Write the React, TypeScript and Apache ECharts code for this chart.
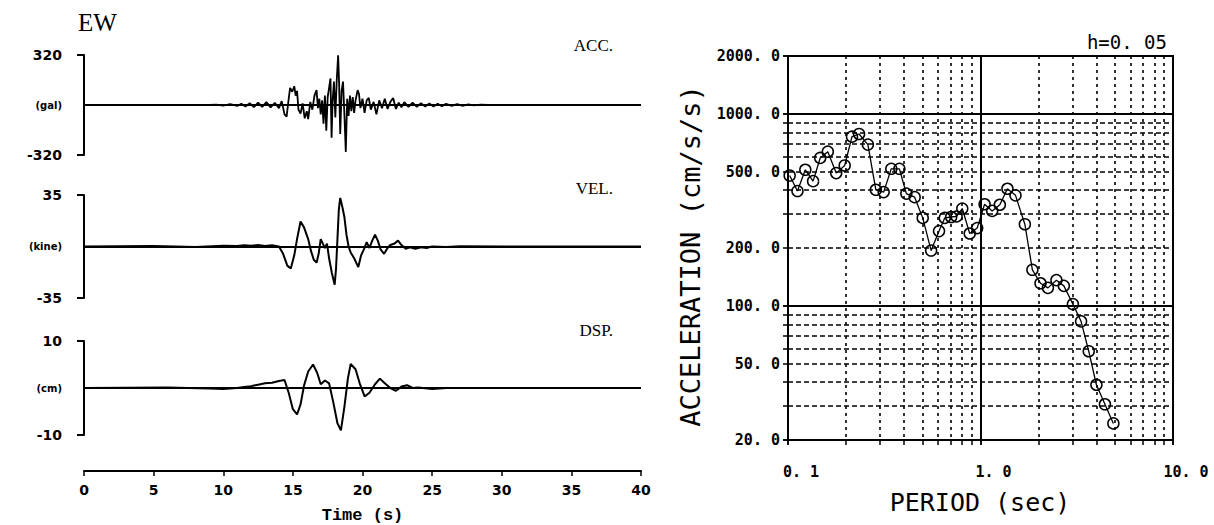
import React, { useEffect, useRef } from "react";
import * as echarts from "echarts";

// Ground-motion time histories (EW component): [time s, value]
const accTrace: [number, number][] = [
  [0, 0], [9, 0], [9.5, 3], [10, -4], [10.5, 5], [11, -6], [11.3, 8], [11.6, -10],
  [11.9, 12], [12.2, -14], [12.5, 15], [12.8, -12], [13.1, 18], [13.4, -15], [13.7, 14],
  [14, -20], [14.2, 25], [14.4, -60], [14.55, -75], [14.7, 40], [14.8, 110], [14.95, 85],
  [15.1, 120], [15.2, 60], [15.3, 90], [15.4, -30], [15.55, -55], [15.7, 10], [15.85, -85],
  [16.0, -40], [16.1, -90], [16.25, 20], [16.4, -30], [16.55, 60], [16.7, 95], [16.8, -20],
  [16.9, 40], [17.0, -60], [17.1, 30], [17.2, -120], [17.3, 60], [17.4, -165], [17.5, 50],
  [17.6, 110], [17.7, 170], [17.78, -210], [17.85, 20], [17.95, 150], [18.05, -80],
  [18.15, 160], [18.25, 318], [18.32, 140], [18.4, -185], [18.5, 90], [18.6, 150],
  [18.7, -60], [18.8, -300], [18.9, 40], [19.0, -70], [19.1, 60], [19.2, -40], [19.3, 50],
  [19.4, -50], [19.5, 30], [19.65, 95], [19.75, 70], [19.85, -20], [20.0, 40], [20.15, -50],
  [20.3, 30], [20.45, 45], [20.6, -30], [20.8, 20], [21.0, -60], [21.2, 30], [21.4, -20],
  [21.6, 40], [21.8, -25], [22.0, 20], [22.2, 45], [22.4, -25], [22.6, 15], [22.8, -15],
  [23.0, 18], [23.3, -12], [23.6, 15], [23.9, -12], [24.2, 12], [24.5, -10], [24.8, 10],
  [25.1, -9], [25.4, 8], [25.7, -8], [26.0, 8], [26.4, -6], [26.8, 6], [27.2, -5],
  [27.6, 4], [28, -3], [28.5, 2], [29, 0], [40, 0],
];

const velTrace: [number, number][] = [
  [0, 0], [5, 0.3], [8, -0.3], [10, 0.5], [11, 0.3], [11.5, 0.8], [12, 0.5], [12.5, 1],
  [13, 0.4], [13.5, 0.8], [14, 0], [14.3, -5], [14.6, -13], [14.85, -15], [15.1, -6],
  [15.3, 5], [15.55, 17], [15.8, 13], [16.1, 5], [16.3, -3], [16.5, -9], [16.7, -11],
  [16.85, -5], [17.0, 5], [17.15, 2], [17.3, -1], [17.45, 2], [17.6, -8], [17.8, -18],
  [18.0, -26], [18.1, -15], [18.2, 5], [18.3, 25], [18.4, 33], [18.55, 27], [18.7, 20],
  [18.85, 8], [19.0, 0], [19.15, -4], [19.4, -8], [19.7, -14], [19.9, -6], [20.1, -2],
  [20.3, 3], [20.5, -1], [20.7, 4], [20.9, 8], [21.1, 4], [21.3, -2], [21.55, -5],
  [21.8, -1], [22.0, 1], [22.3, 2], [22.55, 4], [22.8, 1], [23.1, -1.5], [23.4, -0.5],
  [23.8, -1.5], [24.2, -0.5], [24.6, -1], [25, 0], [26, -0.4], [27, 0.2], [30, 0], [40, 0],
];

const dspTrace: [number, number][] = [
  [0, 0], [6, 0.1], [9, -0.1], [10, -0.2], [11, 0], [11.5, 0.2], [12, 0.4], [12.5, 0.7],
  [13, 1.0], [13.5, 1.1], [14, 1.5], [14.4, 1.7], [14.7, -1], [15.0, -4.5], [15.3, -5.6],
  [15.55, -3.5], [15.8, 0.5], [16.1, 3.5], [16.45, 5.0], [16.75, 3.2], [17.0, 0.8],
  [17.3, 1.6], [17.6, 1.0], [17.9, -3], [18.2, -7.5], [18.45, -9], [18.7, -4], [18.95, 2],
  [19.15, 5.1], [19.5, 4], [19.8, 1], [20.15, -1.8], [20.5, -1], [20.9, 0.8], [21.25, 2.0],
  [21.6, 1.0], [22.0, 0], [22.4, -0.6], [22.8, 0.3], [23.2, 0.6], [23.6, 0], [24, 0.1],
  [25, -0.2], [26, 0], [40, 0],
];

// Acceleration response spectrum, damping h = 0.05
const periods = [
  0.102, 0.112, 0.123, 0.135, 0.147, 0.161, 0.178, 0.197, 0.215, 0.234, 0.26, 0.286,
  0.314, 0.344, 0.379, 0.412, 0.455, 0.501, 0.554, 0.609, 0.652, 0.704, 0.751, 0.804,
  0.879, 0.961, 1.05, 1.15, 1.26, 1.38, 1.52, 1.7, 1.86, 2.05, 2.24, 2.48, 2.71, 3.02,
  3.33, 3.65, 4.0, 4.43, 4.9,
];
const spectralAcc = [
  477, 396, 511, 446, 589, 635, 491, 538, 760, 785, 691, 402, 391, 517, 517, 384, 368,
  287, 194, 245, 287, 290, 292, 321, 238, 254, 338, 312, 336, 407, 376, 266, 154, 131,
  124, 136, 127, 102, 83, 58, 38.8, 30.7, 24.4,
];

// Axis ticks and grid lines of the spectrum panel
const periodLabels = [0.1, 1, 10];
const periodTicks = [0.1, 0.2, 0.3, 0.4, 0.5, 0.6, 0.7, 0.8, 0.9, 1, 2, 3, 4, 5, 6, 7, 8, 9, 10];
const accelLabels = [20, 50, 100, 200, 500, 1000, 2000];
const accelTicks = [20, 30, 40, 50, 60, 70, 80, 90, 100, 200, 300, 400, 500, 600, 700, 800, 900, 1000, 2000];

// Time history panels: limits and unit captions
const traceLimits = [320, 35, 10];
const traceUnits = ["(gal)", "(kine)", "(cm)"];
const traceNames = ["ACC.", "VEL.", "DSP."];
const timeMax = 40;
const timeStep = 5;

const INK = "#000";
const SANS = "DejaVu Sans";
const MONO = "DejaVu Sans Mono";

const traceTops = [55, 195, 341];
const traceHeights = [100, 103, 98];
const nameY = [45, 188, 330];

function fmtDecimal(v: number) {
  return Number(v).toFixed(1).replace(".", ". ");
}

function buildOption() {
  const grids: any[] = traceTops.map((top, i) => ({
    left: 84,
    width: 557,
    top,
    height: traceHeights[i],
  }));
  grids.push({
    left: 788,
    width: 385,
    top: 56,
    height: 384,
    show: true,
    borderColor: INK,
    borderWidth: 2,
    backgroundColor: "transparent",
  });

  const xAxes: any[] = traceTops.map((_, i) => {
    const isBottom = i === traceTops.length - 1;
    return {
      type: "value",
      gridIndex: i,
      min: 0,
      max: timeMax,
      interval: timeStep,
      show: isBottom,
      offset: isBottom ? 36 : 0,
      axisLine: { show: isBottom, onZero: false, lineStyle: { color: INK, width: 2 } },
      axisTick: { show: isBottom, length: 5, lineStyle: { color: INK, width: 1.5 } },
      axisLabel: {
        show: isBottom,
        color: INK,
        fontFamily: SANS,
        fontWeight: "bold",
        fontSize: 14,
        margin: 12,
      },
      splitLine: { show: false },
      name: isBottom ? "Time (s)" : "",
      nameLocation: "middle",
      nameGap: 36,
      nameTextStyle: {
        color: INK,
        fontFamily: "Liberation Mono",
        fontWeight: "bold",
        fontSize: 17,
      },
    };
  });
  // spectrum: decade axis (solid grid, labels)
  xAxes.push({
    type: "log",
    logBase: 10,
    gridIndex: 3,
    position: "bottom",
    min: 0.1,
    max: 10,
    axisLine: { show: true, onZero: false, lineStyle: { color: INK, width: 2 } },
    axisTick: { show: true, length: 5, lineStyle: { color: INK, width: 1.5 } },
    axisLabel: {
      customValues: periodLabels,
      formatter: (v: number) => fmtDecimal(v),
      color: INK,
      fontFamily: MONO,
      fontWeight: "bold",
      fontSize: 15,
      margin: 24,
      align: "center",
      padding: [0, 0, 0, 26],
    },
    splitLine: { show: true, lineStyle: { color: INK, width: 2 } },
    z: 3,
  });
  // spectrum: intermediate periods (dashed grid, ticks only)
  xAxes.push({
    type: "log",
    logBase: 10,
    gridIndex: 3,
    position: "bottom",
    offset: 0,
    min: 0.1,
    max: 10,
    axisLine: { show: false, onZero: false },
    axisTick: {
      show: true,
      customValues: periodTicks,
      length: 5,
      lineStyle: { color: INK, width: 1.5 },
    },
    axisLabel: { show: false },
    splitLine: { show: true, lineStyle: { color: INK, width: 1.6, type: [3, 4] } },
    z: 1,
  });

  const yAxes: any[] = traceLimits.map((lim, i) => ({
    type: "value",
    gridIndex: i,
    min: -lim,
    max: lim,
    interval: lim,
    axisLine: { show: true, onZero: false, lineStyle: { color: INK, width: 2 } },
    axisTick: {
      show: true,
      customValues: [-lim, lim],
      length: 7,
      lineStyle: { color: INK, width: 2 },
    },
    axisLabel: {
      customValues: [-lim, 0, lim],
      margin: 22,
      color: INK,
      fontFamily: SANS,
      fontWeight: "bold",
      fontSize: 14,
      formatter: (v: number) => (v === 0 ? `{u|${traceUnits[i]}}` : String(v)),
      rich: {
        u: { fontSize: 10, fontWeight: "bold", fontFamily: SANS, color: INK },
      },
    },
    splitLine: { show: false },
  }));
  yAxes.push({
    type: "log",
    logBase: 10,
    gridIndex: 3,
    position: "left",
    min: 20,
    max: 2000,
    axisLine: { show: true, onZero: false, lineStyle: { color: INK, width: 2 } },
    axisTick: { show: true, length: 5, lineStyle: { color: INK, width: 1.5 } },
    axisLabel: {
      customValues: accelLabels,
      formatter: (v: number) => fmtDecimal(v),
      color: INK,
      fontFamily: MONO,
      fontWeight: "bold",
      fontSize: 15,
      margin: 8,
    },
    splitLine: { show: true, lineStyle: { color: INK, width: 2 } },
    z: 3,
  });
  yAxes.push({
    type: "log",
    logBase: 10,
    gridIndex: 3,
    position: "left",
    offset: 0,
    min: 20,
    max: 2000,
    axisLine: { show: false, onZero: false },
    axisTick: {
      show: true,
      customValues: accelTicks,
      length: 5,
      lineStyle: { color: INK, width: 1.5 },
    },
    axisLabel: { show: false },
    splitLine: { show: true, lineStyle: { color: INK, width: 1.6, type: [5, 3] } },
    z: 1,
  });

  const zeroLine = {
    silent: true,
    symbol: ["none", "none"],
    label: { show: false },
    lineStyle: { color: INK, width: 2, type: "solid" },
    data: [{ yAxis: 0 }],
  };

  const traces = [accTrace, velTrace, dspTrace];
  const series: any[] = traces.map((d, i) => ({
    type: "line",
    name: traceNames[i],
    xAxisIndex: i,
    yAxisIndex: i,
    data: d,
    symbol: "none",
    showSymbol: false,
    lineStyle: { color: INK, width: i === 0 ? 1.8 : 2 },
    markLine: zeroLine,
  }));

  series.push({
    type: "line",
    name: "Sa",
    xAxisIndex: 3,
    yAxisIndex: 3,
    data: periods.map((p, i) => [p, spectralAcc[i]]),
    symbol: "circle",
    symbolSize: 11,
    itemStyle: { color: "rgba(255,255,255,0)", borderColor: INK, borderWidth: 1.5 },
    lineStyle: { color: INK, width: 1.3 },
    z: 5,
  });

  const txt = (text: string, x: number, y: number, font: string, align = "left", rotation = 0) => ({
    type: "text",
    x,
    y,
    rotation,
    silent: true,
    style: {
      text,
      font,
      fill: INK,
      align,
      textAlign: align,
      verticalAlign: "middle",
      textVerticalAlign: "middle",
    },
  });

  const graphic: any[] = [
    txt("EW", 78, 22, "25px 'Liberation Serif'"),
    ...traceNames.map((n, i) => txt(n, 613, nameY[i], "17px 'Liberation Serif'", "right")),
    txt("h=0. 05", 1167, 42, `19px '${MONO}'`, "right"),
    txt("ACCELERATION (cm/s/s)", 690, 256, `27px '${MONO}'`, "center", Math.PI / 2),
    txt("PERIOD (sec)", 980, 502, `25px '${MONO}'`, "center"),
  ];

  return {
    animation: false,
    backgroundColor: "#fff",
    grid: grids,
    xAxis: xAxes,
    yAxis: yAxes,
    series,
    graphic,
  };
}

export default function App() {
  const ref = useRef<HTMLDivElement>(null);
  useEffect(() => {
    if (!ref.current) return;
    const chart = echarts.init(ref.current, undefined, { renderer: "svg" });
    chart.setOption(buildOption());
    return () => chart.dispose();
  }, []);
  return (
    <div
      ref={ref}
      style={{ position: "fixed", left: 0, top: 0, width: 1214, height: 525, background: "#fff" }}
    />
  );
}
